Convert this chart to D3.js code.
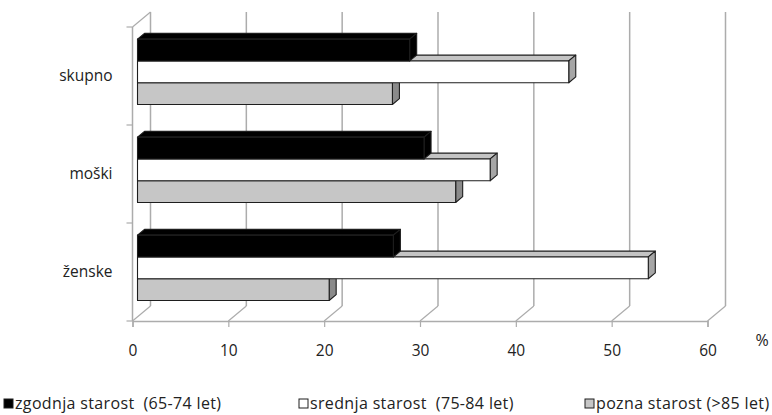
<!DOCTYPE html>
<html>
<head>
<meta charset="utf-8">
<script src="https://cdn.jsdelivr.net/npm/d3@7/dist/d3.min.js"></script>
<style>
  html, body { margin: 0; padding: 0; background: #fff; }
  svg { display: block; font-family: "Open Sans", "Noto Sans", sans-serif; }
  .legend text { white-space: pre; }
</style>
</head>
<body>
<svg id="chart" width="772" height="415"></svg>
<script>
// Age groups by sex, percentages
const categories = ["skupno", "moški", "ženske"];
const seriesNames = ["zgodnja starost  (65-74 let)", "srednja starost  (75-84 let)", "pozna starost (>85 let)"];
const zgodnja = [28.4, 29.9, 26.7];
const srednja = [45.0, 36.8, 53.3];
const pozna = [26.6, 33.2, 20.0];
const xTicks = [0, 10, 20, 30, 40, 50, 60];
const unitLabel = "%";

const series = [zgodnja, srednja, pozna];

// face colours per series: front, top, side
const palette = [
  { front: "#000000", top: "#000000", side: "#000000", swatch: "#000000" },
  { front: "#ffffff", top: "#c4c4c4", side: "#a6a6a6", swatch: "#ffffff" },
  { front: "#c6c6c6", top: "#d4d4d4", side: "#8a8a8a", swatch: "#c6c6c6" }
];

const svg = d3.select("#chart");

// front plane of the plot box
const plotTop = 27, plotBottom = 321;
const x = d3.scaleLinear().domain([0, 60]).range([132.5, 707.5]);
const y = d3.scaleBand().domain(categories).range([plotTop, plotBottom]);

// oblique projection of depth (0 = front, 1 = back wall)
const depthX = 18, depthY = -15;
const proj = (v, yy, d) => [x(v) + depthX * d, yy + depthY * d];

const gridColor = "#acacac";

// back wall gridlines and floor lines
const grid = svg.append("g");
xTicks.forEach(t => {
  const [bx, byTop] = proj(t, plotTop, 1);
  const [, byBot] = proj(t, plotBottom, 1);
  grid.append("line")
    .attr("x1", bx).attr("x2", bx).attr("y1", byTop).attr("y2", byBot)
    .attr("stroke", gridColor).attr("stroke-width", 1.5);
  grid.append("line")
    .attr("x1", bx).attr("y1", byBot).attr("x2", x(t)).attr("y2", plotBottom)
    .attr("stroke", gridColor).attr("stroke-width", 1.2);
});

// left wall edge
const [tlx, tly] = proj(0, plotTop, 1);
grid.append("line")
  .attr("x1", x(0)).attr("x2", x(0)).attr("y1", plotTop).attr("y2", plotBottom)
  .attr("stroke", gridColor).attr("stroke-width", 1.5);
grid.append("line")
  .attr("x1", x(0)).attr("y1", plotTop).attr("x2", tlx).attr("y2", tly)
  .attr("stroke", gridColor).attr("stroke-width", 1.2);
// category boundary ticks
y.domain().map(c => y(c)).concat([plotBottom]).forEach(b => {
  grid.append("line")
    .attr("x1", x(0) - 6).attr("x2", x(0)).attr("y1", b).attr("y2", b)
    .attr("stroke", gridColor).attr("stroke-width", 1.2);
});

// bottom axis
const xAxis = svg.append("g")
  .attr("transform", `translate(0,${plotBottom})`)
  .call(d3.axisBottom(x).tickValues(xTicks).tickSize(6).tickPadding(18).tickFormat(d3.format("d")));
xAxis.select(".domain").attr("stroke", gridColor).attr("stroke-width", 1.5);
xAxis.selectAll(".tick line").attr("stroke", gridColor).attr("stroke-width", 1.2);
xAxis.selectAll(".tick text")
  .attr("font-size", 15.5).attr("fill", "#222").attr("font-family", "Open Sans, sans-serif");

svg.append("text")
  .attr("x", 762).attr("y", 346)
  .attr("text-anchor", "middle")
  .attr("font-size", 16).attr("fill", "#222")
  .text(unitLabel);

// category labels
const yAxis = svg.append("g")
  .attr("transform", `translate(${x(0)},0)`)
  .call(d3.axisLeft(y).tickSize(0).tickPadding(20));
yAxis.select(".domain").remove();
yAxis.selectAll(".tick text")
  .attr("font-size", 15.5).attr("fill", "#222").attr("font-family", "Open Sans, sans-serif");

// 3D bars
const nSeries = series.length;
const gapRatio = 1.5;
const barH = y.bandwidth() / (nSeries + gapRatio);
const groupOffset = barH * gapRatio / 2;
const d0 = 0.278, d1 = 0.667;

const bars = svg.append("g");
const poly = pts => pts.map(p => p.join(",")).join(" ");

categories.forEach((cat, ci) => {
  // lower bars first so upper bars hide their top faces
  for (let si = nSeries - 1; si >= 0; si--) {
    const v = series[si][ci];
    const yt = y(cat) + groupOffset + si * barH;
    const yb = yt + barH;
    const col = palette[si];
    const g = bars.append("g")
      .attr("stroke", "#1e1e1e").attr("stroke-width", 1.1).attr("stroke-linejoin", "round");
    g.append("polygon")
      .attr("points", poly([proj(0, yt, d0), proj(v, yt, d0), proj(v, yt, d1), proj(0, yt, d1)]))
      .attr("fill", col.top);
    g.append("polygon")
      .attr("points", poly([proj(v, yt, d0), proj(v, yt, d1), proj(v, yb, d1), proj(v, yb, d0)]))
      .attr("fill", col.side);
    g.append("polygon")
      .attr("points", poly([proj(0, yt, d0), proj(v, yt, d0), proj(v, yb, d0), proj(0, yb, d0)]))
      .attr("fill", col.front);
  }
});

// legend
const legendX = [4, 299, 585];
const legend = svg.append("g").attr("class", "legend");
seriesNames.forEach((name, i) => {
  legend.append("rect")
    .attr("x", legendX[i]).attr("y", 399)
    .attr("width", 9).attr("height", 9)
    .attr("fill", palette[i].swatch)
    .attr("stroke", "#1e1e1e").attr("stroke-width", 1);
  legend.append("text")
    .attr("x", legendX[i] + 11).attr("y", 409)
    .attr("font-size", 16).attr("letter-spacing", 0.35).attr("fill", "#222")
    .text(name);
});
</script>
</body>
</html>
